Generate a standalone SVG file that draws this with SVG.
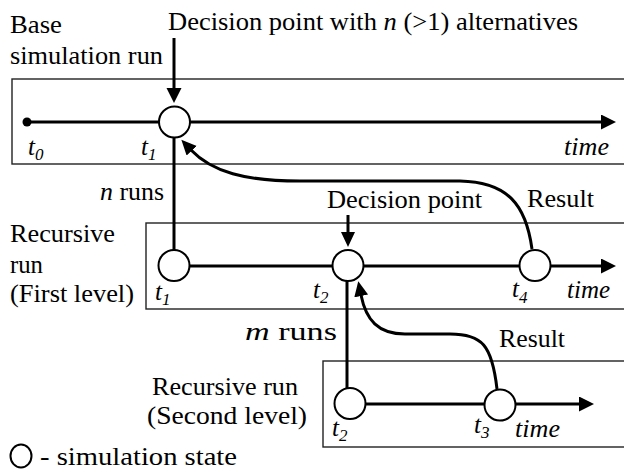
<svg xmlns="http://www.w3.org/2000/svg" width="624" height="472" viewBox="0 0 624 472">
  <style>
    .it { font-style: italic; }
    .sub { font-size: 17px; font-style: italic; }
    .box { fill: none; stroke: #222; stroke-width: 1.4; }
    .run { fill: none; stroke: #000; stroke-width: 3; }
    .link { fill: none; stroke: #000; stroke-width: 3; }
    .state { fill: #fff; stroke: #000; stroke-width: 2; }
  </style>
  <defs>
    <marker id="head" markerUnits="userSpaceOnUse" markerWidth="16" markerHeight="16" refX="1" refY="7.5" orient="auto">
      <path d="M0,0 L15,7.5 L0,15 z" fill="#000"/>
    </marker>
    <marker id="headSmall" markerUnits="userSpaceOnUse" markerWidth="16" markerHeight="16" refX="1" refY="7" orient="auto">
      <path d="M0,0 L15,7 L0,14 z" fill="#000"/>
    </marker>
  </defs>

  <rect width="624" height="472" fill="#fff"/>

  <!-- run frames -->
  <g id="frames">
    <rect class="box" x="12" y="79" width="620" height="85"/>
    <rect class="box" x="146" y="223" width="486" height="86"/>
    <rect class="box" x="323" y="361" width="309" height="86"/>
  </g>

  <!-- timelines and links between states -->
  <g id="connectors">
    <line class="run" x1="27" y1="122" x2="602" y2="122" marker-end="url(#head)"/>
    <line class="run" x1="174" y1="266" x2="602" y2="266" marker-end="url(#head)"/>
    <line class="run" x1="350" y1="404" x2="580" y2="404" marker-end="url(#head)"/>
    <!-- decision pointers -->
    <line class="link" x1="174" y1="38" x2="174" y2="89" marker-end="url(#head)"/>
    <line class="link" x1="348" y1="215" x2="348" y2="233" marker-end="url(#headSmall)"/>
    <!-- branching into recursive runs -->
    <line class="link" x1="174" y1="137" x2="174" y2="250"/>
    <line class="link" x1="347" y1="281" x2="347" y2="389"/>
    <!-- results returned to the decision points -->
    <path class="link" d="M532 249 C526 205, 508 182, 460 181 L300 181 C245 181, 212 172, 191 150" marker-end="url(#headSmall)"/>
    <path class="link" d="M497 389 C492 345, 482 334, 450 334 L405 334 C378 334, 366 320, 361 295" marker-end="url(#headSmall)"/>
  </g>

  <!-- base run states -->
  <g id="base-start"><circle cx="27" cy="122" r="4.5" fill="#000"/></g>
  <g id="base-t1"><circle class="state" cx="174.5" cy="122" r="15.5"/></g>

  <!-- first level states -->
  <g id="first-t1"><circle class="state" cx="174" cy="265.5" r="15.5"/></g>
  <g id="first-t2"><circle class="state" cx="348" cy="265.5" r="15.5"/></g>
  <g id="first-t4"><circle class="state" cx="535" cy="265.5" r="15.5"/></g>

  <!-- second level states -->
  <g id="second-t2"><circle class="state" cx="350" cy="403.5" r="15.5"/></g>
  <g id="second-t3"><circle class="state" cx="500" cy="405" r="15.5"/></g>

  <!-- legend -->
  <g id="legend" font-family="Liberation Serif" font-size="25" fill="#000">
    <ellipse class="state" cx="21" cy="456" rx="10.5" ry="11.5" stroke-width="1.6"/>
    <text x="40" y="465" textLength="197" lengthAdjust="spacingAndGlyphs">- simulation state</text>
  </g>

  <!-- labels -->
  <g id="labels" font-family="Liberation Serif" font-size="25" fill="#000">
    <text x="10" y="33" textLength="52" lengthAdjust="spacingAndGlyphs">Base</text>
    <text x="10" y="64" textLength="153" lengthAdjust="spacingAndGlyphs">simulation run</text>
    <text x="168" y="30" textLength="410" lengthAdjust="spacingAndGlyphs">Decision point with <tspan class="it">n</tspan> (&gt;1) alternatives</text>

    <text class="it" x="28" y="155">t<tspan class="sub" dy="5">0</tspan></text>
    <text class="it" x="141" y="155">t<tspan class="sub" dy="5">1</tspan></text>
    <text class="it" x="564" y="155" textLength="45" lengthAdjust="spacingAndGlyphs">time</text>

    <text x="100" y="200" textLength="64" lengthAdjust="spacingAndGlyphs"><tspan class="it">n</tspan> runs</text>

    <text x="10" y="242" textLength="105" lengthAdjust="spacingAndGlyphs">Recursive</text>
    <text x="10" y="273" textLength="33" lengthAdjust="spacingAndGlyphs">run</text>
    <text x="10" y="302" textLength="124" lengthAdjust="spacingAndGlyphs">(First level)</text>

    <text x="327" y="208" textLength="155" lengthAdjust="spacingAndGlyphs">Decision point</text>
    <text x="527" y="207" textLength="67" lengthAdjust="spacingAndGlyphs">Result</text>

    <text class="it" x="155" y="300">t<tspan class="sub" dy="5">1</tspan></text>
    <text class="it" x="313" y="298">t<tspan class="sub" dy="5">2</tspan></text>
    <text class="it" x="512" y="297">t<tspan class="sub" dy="6">4</tspan></text>
    <text class="it" x="567" y="298" textLength="43" lengthAdjust="spacingAndGlyphs">time</text>

    <text x="245" y="340" textLength="92" lengthAdjust="spacingAndGlyphs"><tspan class="it">m</tspan> runs</text>
    <text x="499" y="347" textLength="66" lengthAdjust="spacingAndGlyphs">Result</text>

    <text x="152" y="395" textLength="146" lengthAdjust="spacingAndGlyphs">Recursive run</text>
    <text x="147" y="424" textLength="160" lengthAdjust="spacingAndGlyphs">(Second level)</text>

    <text class="it" x="332" y="436">t<tspan class="sub" dy="5">2</tspan></text>
    <text class="it" x="474" y="433">t<tspan class="sub" dy="5">3</tspan></text>
    <text class="it" x="515" y="437" textLength="45" lengthAdjust="spacingAndGlyphs">time</text>
  </g>
</svg>
